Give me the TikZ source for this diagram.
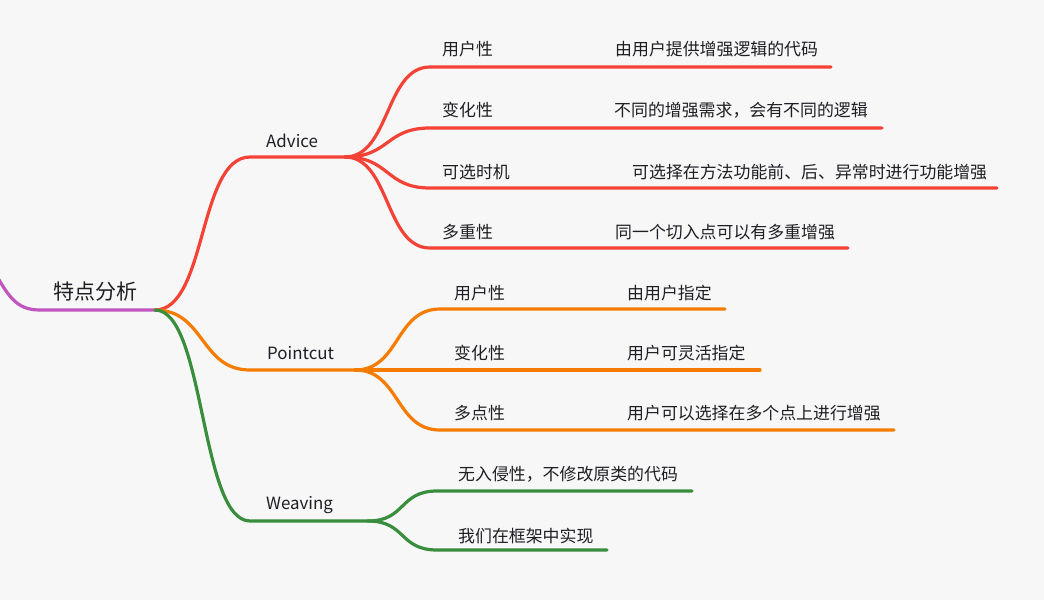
\documentclass[tikz,border=0pt]{standalone}
\usepackage{fontspec}
\setmainfont{Noto Sans CJK SC}
\definecolor{bg}{HTML}{F7F7F7}
\definecolor{txt}{HTML}{1E1E24}
\definecolor{cpurple}{HTML}{C055C0}
\definecolor{cred}{HTML}{F44336}
\definecolor{corange}{HTML}{F57C00}
\definecolor{cgreen}{HTML}{388E3C}
\begin{document}
\begin{tikzpicture}[x=1pt,y=-1pt,
  lbl/.style={anchor=west,inner sep=0pt,font=\fontsize{16.9}{20}\selectfont,text=txt},
  rootlbl/.style={anchor=center,inner sep=0pt,font=\fontsize{21}{25}\selectfont,text=txt},
  br/.style={line width=3.2pt,line cap=round},
  mm/.style={to path={.. controls ([xshift=#1]\tikztostart) and ([xshift=-#1]\tikztotarget) .. (\tikztotarget)}}]
\fill[bg] (0,0) rectangle (1044,600);
\useasboundingbox (0,0) rectangle (1044,600);

% junction and end coordinates
\coordinate (p0) at (-8,268);
\coordinate (pj) at (40,310);
\coordinate (rj) at (155,310);
% Advice
\coordinate (aS) at (250,157);
\coordinate (aJ) at (345,157);
\coordinate (a1s) at (430,67);  \coordinate (a1e) at (831,67);
\coordinate (a2s) at (430,128); \coordinate (a2e) at (882,128);
\coordinate (a3s) at (430,188); \coordinate (a3e) at (997,188);
\coordinate (a4s) at (430,248); \coordinate (a4e) at (848,248);
% Pointcut
\coordinate (pS) at (250,370);
\coordinate (pJ) at (355,370);
\coordinate (p1s) at (440,309); \coordinate (p1e) at (725,309);
\coordinate (p2e) at (760,370);
\coordinate (p3s) at (440,430); \coordinate (p3e) at (894,430);
% Weaving
\coordinate (wS) at (250,521);
\coordinate (wJ) at (368,521);
\coordinate (w1s) at (437,491); \coordinate (w1e) at (692,491);
\coordinate (w2s) at (437,550); \coordinate (w2e) at (607,550);

% text nodes
\node[rootlbl] (root) at (95,292) {特点分析};
\node[lbl] (advice) at (266,141) {Advice};
\node[lbl] (a1) at (442,49) {用户性};
\node[lbl] (a1x) at (615,49) {由用户提供增强逻辑的代码};
\node[lbl] (a2) at (442,110) {变化性};
\node[lbl] (a2x) at (614,110) {不同的增强需求，会有不同的逻辑};
\node[lbl] (a3) at (442,172) {可选时机};
\node[lbl] (a3x) at (632,172) {可选择在方法功能前、后、异常时进行功能增强};
\node[lbl] (a4) at (442,232) {多重性};
\node[lbl] (a4x) at (615,232) {同一个切入点可以有多重增强};

\node[lbl] (pointcut) at (267,353) {Pointcut};
\node[lbl] (b1) at (454,293) {用户性};
\node[lbl] (b1x) at (627,293) {由用户指定};
\node[lbl] (b2) at (454,353) {变化性};
\node[lbl] (b2x) at (627,353) {用户可灵活指定};
\node[lbl] (b3) at (454,413) {多点性};
\node[lbl] (b3x) at (627,413) {用户可以选择在多个点上进行增强};

\node[lbl] (weaving) at (266,505) {Weaving};
\node[lbl] (c1) at (458,474) {无入侵性，不修改原类的代码};
\node[lbl] (c2) at (458,536) {我们在框架中实现};

% connectors
\draw[br,cpurple,line cap=butt] (p0) .. controls (8,295) and (15,310) .. (pj) -- (rj);

\draw[br,cred] (rj) to[mm=52] (aS) -- (aJ);
\draw[br,cred] (aJ) to[mm=45] (a1s) -- (a1e);
\draw[br,cred] (aJ) to[mm=45] (a2s) -- (a2e);
\draw[br,cred] (aJ) to[mm=45] (a3s) -- (a3e);
\draw[br,cred] (aJ) to[mm=45] (a4s) -- (a4e);

\draw[br,corange] (rj) to[mm=50] (pS) -- (pJ);
\draw[br,corange] (pJ) to[mm=45] (p1s) -- (p1e);
\draw[br,corange] (pJ) -- (p2e);
\draw[br,corange] (pJ) to[mm=45] (p3s) -- (p3e);

\draw[br,cgreen] (rj) to[mm=50] (wS) -- (wJ);
\draw[br,cgreen] (wJ) to[mm=38] (w1s) -- (w1e);
\draw[br,cgreen] (wJ) to[mm=38] (w2s) -- (w2e);
\end{tikzpicture}
\end{document}
